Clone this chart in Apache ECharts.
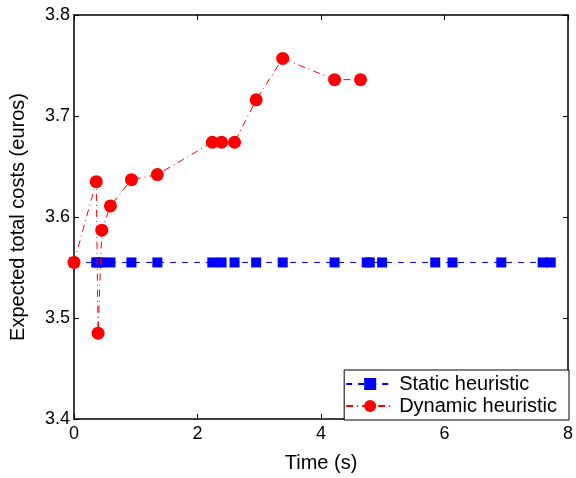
<!DOCTYPE html>
<html>
<head>
<meta charset="utf-8">
<script src="https://cdn.jsdelivr.net/npm/echarts@6/dist/echarts.min.js"></script>
<style>html,body{margin:0;padding:0;background:#fff}#c{width:576px;height:478px}</style>
</head>
<body>
<div id="c"></div>
<script>
var staticTimes = [0, 0.36, 0.39, 0.45, 0.59, 0.93, 1.35, 2.24, 2.39, 2.60, 2.95, 3.38, 4.22, 4.74, 4.79, 4.99, 5.85, 6.13, 6.92, 7.59, 7.72];
var staticCost = 3.555;
var dynamicTimes = [0, 0.36, 0.39, 0.45, 0.59, 0.93, 1.35, 2.24, 2.39, 2.60, 2.95, 3.38, 4.22, 4.64];
var dynamicCosts = [3.555, 3.635, 3.485, 3.587, 3.611, 3.637, 3.642, 3.674, 3.674, 3.674, 3.716, 3.757, 3.736, 3.736];
var xTicks = [0, 2, 4, 6, 8];
var yTicks = [3.4, 3.5, 3.6, 3.7, 3.8];

var FONT = 'Liberation Sans, Arial, Helvetica, sans-serif';
var chart = echarts.init(document.getElementById('c'), null, {renderer: 'canvas'});

function axisCommon(extra) {
  var base = {
    axisLine: {show: true, onZero: false, lineStyle: {color: '#000', width: 1.5}},
    axisTick: {show: true, inside: true, length: 5, lineStyle: {color: '#000', width: 1}},
    splitLine: {show: false},
    axisLabel: {show: true, color: '#000', fontSize: 18, fontFamily: FONT}
  };
  for (var k in extra) base[k] = extra[k];
  return base;
}

chart.setOption({
  animation: false,
  backgroundColor: '#fff',
  grid: {left: 73, right: 5, top: 15, bottom: 54, containLabel: false},
  xAxis: [
    axisCommon({type: 'value', min: xTicks[0], max: xTicks[xTicks.length - 1], interval: 2,
      name: 'Time (s)', nameLocation: 'middle', nameGap: 34,
      nameTextStyle: {color: '#000', fontSize: 20, fontFamily: FONT},
      axisLabel: {show: true, color: '#000', fontSize: 18, fontFamily: FONT, margin: 6}}),
    axisCommon({type: 'value', position: 'top', min: xTicks[0], max: xTicks[xTicks.length - 1], interval: 2,
      axisLabel: {show: false}})
  ],
  yAxis: [
    axisCommon({type: 'value', min: yTicks[0], max: yTicks[yTicks.length - 1], interval: 0.1,
      name: 'Expected total costs (euros)', nameLocation: 'middle', nameGap: 46,
      nameTextStyle: {color: '#000', fontSize: 20, fontFamily: FONT},
      axisLabel: {show: true, color: '#000', fontSize: 18, fontFamily: FONT, margin: 4,
        formatter: function (v) { return v.toFixed(1); }}}),
    axisCommon({type: 'value', position: 'right', min: yTicks[0], max: yTicks[yTicks.length - 1], interval: 0.1,
      axisLabel: {show: false}})
  ],
  legend: {
    right: 7, bottom: 58,
    orient: 'vertical',
    backgroundColor: '#fff',
    borderColor: '#000', borderWidth: 1, borderRadius: 0,
    padding: [4, 12, 4, 1],
    itemGap: 2,
    itemWidth: 48, itemHeight: 15,
    textStyle: {color: '#000', fontSize: 20, fontFamily: FONT},
    data: ['Static heuristic', 'Dynamic heuristic']
  },
  series: [
    {
      name: 'Static heuristic', type: 'line', z: 2,
      data: staticTimes.map(function (t) { return [t, staticCost]; }),
      symbol: 'rect', symbolSize: 10,
      itemStyle: {color: '#0000ff'},
      lineStyle: {color: '#0000ff', width: 1, type: [6, 6]}
    },
    {
      name: 'Dynamic heuristic', type: 'line', z: 3,
      data: dynamicTimes.map(function (t, i) { return [t, dynamicCosts[i]]; }),
      symbol: 'circle', symbolSize: 13,
      itemStyle: {color: '#ff0000'},
      lineStyle: {color: '#ff0000', width: 1, type: [7, 4, 1, 4]}
    }
  ]
});
</script>
</body>
</html>
